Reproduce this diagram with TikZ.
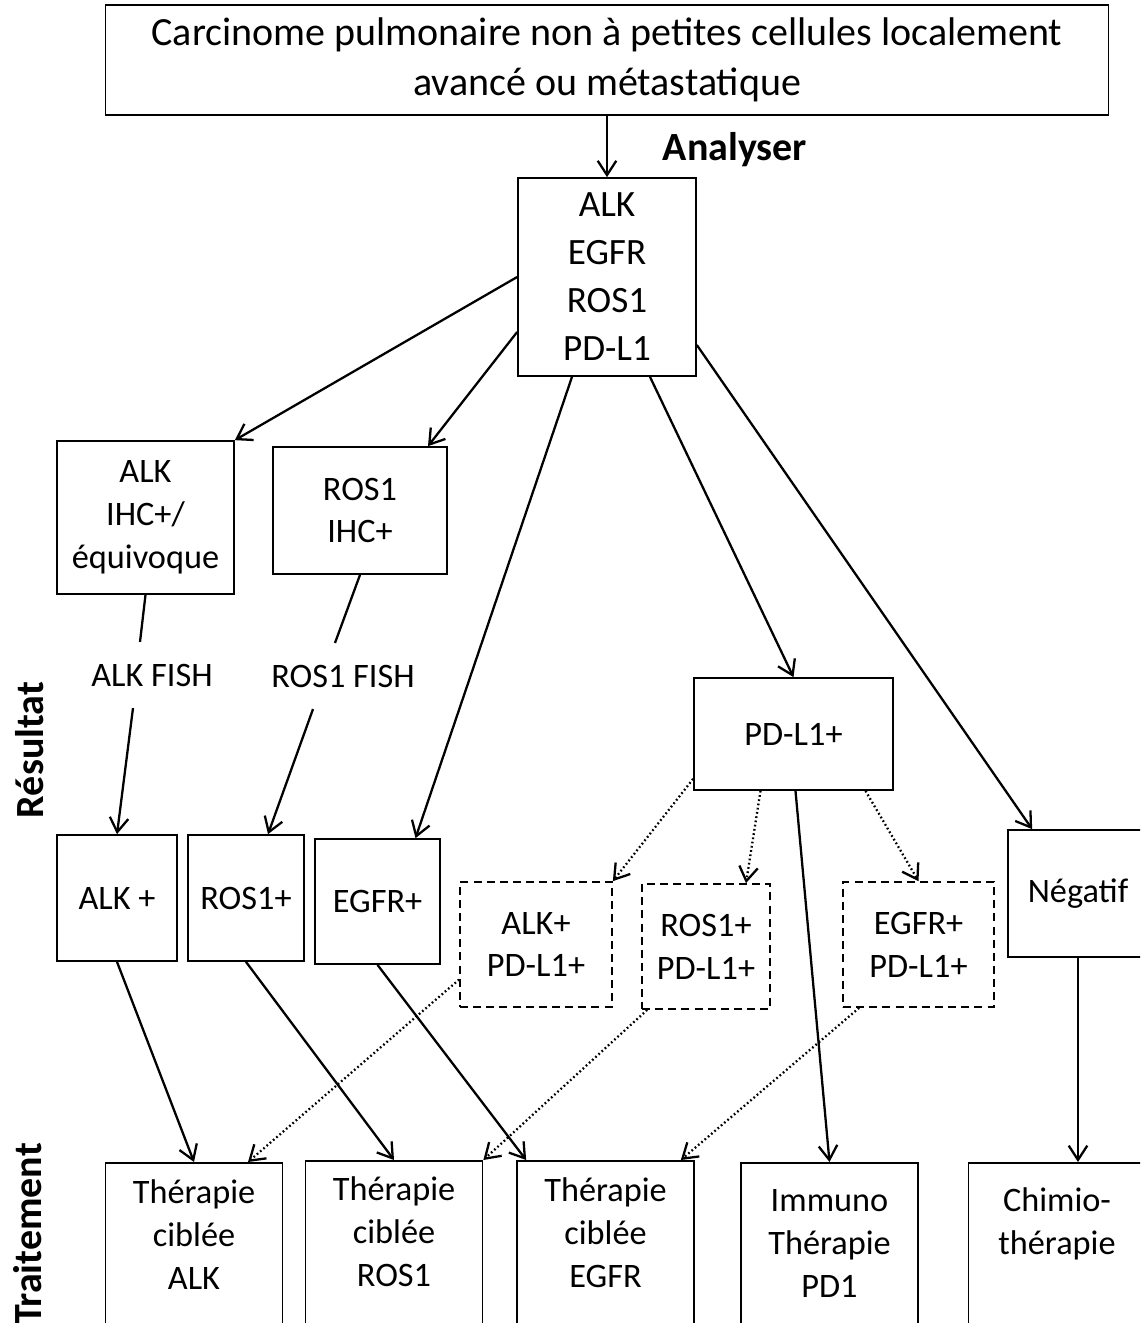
\documentclass[tikz,border=0pt]{standalone}
\usepackage{fontspec}
\setmainfont{Carlito}
\usetikzlibrary{
  arrows.meta,
  positioning,
  calc
}
\newlength\unitpx
\setlength\unitpx{0.35pt}
\tikzset{
  box/.style 2 args={draw, line width=0.6pt, align=center, inner sep=0pt,
    minimum width=#1\unitpx, minimum height=#2\unitpx},
  dbox/.style 2 args={box={#1}{#2}, dash pattern=on 2.8pt off 1.8pt},
  tbox/.style={draw, line width=0.6pt, anchor=north, align=center, inner sep=0pt,
    text width=177\unitpx, text height=#1\unitpx, text depth=170\unitpx},
  fish/.style={minimum height=65\unitpx, inner sep=0pt},
  arr/.style={->, line width=0.8pt},
  darr/.style={->, line width=0.8pt, dash pattern=on 0.6pt off 0.9pt},
  side/.style={rotate=90, font=\fontsize{14}{17}\selectfont\bfseries}
}

\begin{document}
\begin{tikzpicture}[x=\unitpx, y=-\unitpx, >={Straight Barb[length=5pt,width=6.5pt]},
    font=\fontsize{12}{15}\selectfont]
    \useasboundingbox (0,0) rectangle (1140,1323);
    \clip (0,0) rectangle (1140,1323);

    % analyse
    \node[box={1003}{110}, font=\fontsize{14}{17.5}\selectfont] (top) at (607,60)
      {Carcinome pulmonaire non à petites cellules localement\\avancé ou métastatique};
    \node[box={178}{198}, font=\fontsize{13}{16.8}\selectfont] (tests) at (607,277)
      {ALK\\EGFR\\ROS1\\PD-L1};
    \node[font=\fontsize{14}{17}\selectfont\bfseries] (analyser) at (735,150) {Analyser};

    % resultats
    \node[box={177}{153}] (alkihc) at (145.5,517.5) {ALK\\IHC+/\\équivoque};
    \node[box={174}{127}] (rosihc) at (360,510.5) {ROS1\\IHC+};
    \node[fish] (alkfish) at (152,675) {ALK FISH};
    \node[fish] (rosfish) at (343,676) {ROS1 FISH};
    \node[box={199}{112}] (pdl) at (793.5,734) {PD-L1+};
    \node[box={120}{126}] (alkp) at (117,898) {ALK +};
    \node[box={116}{126}] (rosp) at (246,898) {ROS1+};
    \node[box={125}{125}] (egfrp) at (377.5,901.5) {EGFR+};
    \node[dbox={152}{125}] (alkpd) at (536,944.5) {ALK+\\PD-L1+};
    \node[dbox={128}{125}] (rospd) at (706,946.5) {ROS1+\\PD-L1+};
    \node[dbox={151}{125}] (egfrpd) at (918.5,944.5) {EGFR+\\PD-L1+};
    \node[box={140}{127}] (neg) at (1078,893.5) {Négatif};

    % traitements
    \node[tbox=41] (thalk) at (194,1162) {Thérapie\\ciblée\\ALK};
    \node[tbox=40] (thros) at (394,1160) {Thérapie\\ciblée\\ROS1};
    \node[tbox=41] (thegfr) at (605.5,1160) {Thérapie\\ciblée\\EGFR};
    \node[tbox=49] (immuno) at (829.5,1162) {Immuno\\Thérapie\\PD1};
    \node[tbox=49] (chimio) at (1057,1162) {Chimio-\\thérapie};

    \node[side] (resultat) at (30,750) {Résultat};
    \node[side] (traitement) at (28,1234) {Traitement};

    \draw[arr] (top.south) -- (tests.north);
    \draw[arr] (tests.west) -- (alkihc.north east);
    \draw[arr] ([yshift=-55\unitpx]tests.west) -- ([xshift=68\unitpx]rosihc.north);
    \draw[arr] ([xshift=-35\unitpx]tests.south) -- ([xshift=38\unitpx]egfrp.north);
    \draw[arr] ([xshift=43\unitpx]tests.south) -- (pdl.north);
    \draw[arr] ([yshift=-68\unitpx]tests.east) -- ([xshift=25\unitpx]neg.north west);

    \draw[line width=0.8pt] (alkihc.south) -- ([xshift=-12\unitpx]alkfish.north);
    \draw[arr] ([xshift=-19\unitpx]alkfish.south) -- (alkp.north);
    \draw[line width=0.8pt] (rosihc.south) -- ([xshift=-8\unitpx]rosfish.north);
    \draw[arr] ([xshift=-30\unitpx]rosfish.south) -- ([xshift=22\unitpx]rosp.north);

    \draw[darr] ([yshift=12\unitpx]pdl.south west) -- (alkpd.north east);
    \draw[darr] ([xshift=-33\unitpx]pdl.south) -- ([xshift=40\unitpx]rospd.north);
    \draw[darr] ([xshift=72\unitpx]pdl.south) -- (egfrpd.north);
    \draw[arr] ([xshift=2\unitpx]pdl.south) -- (immuno.north);

    \draw[arr] (alkp.south) -- (thalk.north);
    \draw[arr] (rosp.south) -- (thros.north);
    \draw[arr] (egfrp.south) -- ([xshift=10\unitpx]thegfr.north west);
    \draw[darr] ([yshift=-35\unitpx]alkpd.west) -- ([xshift=54\unitpx]thalk.north);
    \draw[darr] ([xshift=6\unitpx]rospd.south west) -- (thros.north east);
    \draw[darr] ([xshift=17\unitpx]egfrpd.south west) -- ([xshift=-14\unitpx]thegfr.north east);
    \draw[arr] (neg.south) -- (neg.south |- chimio.north);
\end{tikzpicture}
\end{document}
